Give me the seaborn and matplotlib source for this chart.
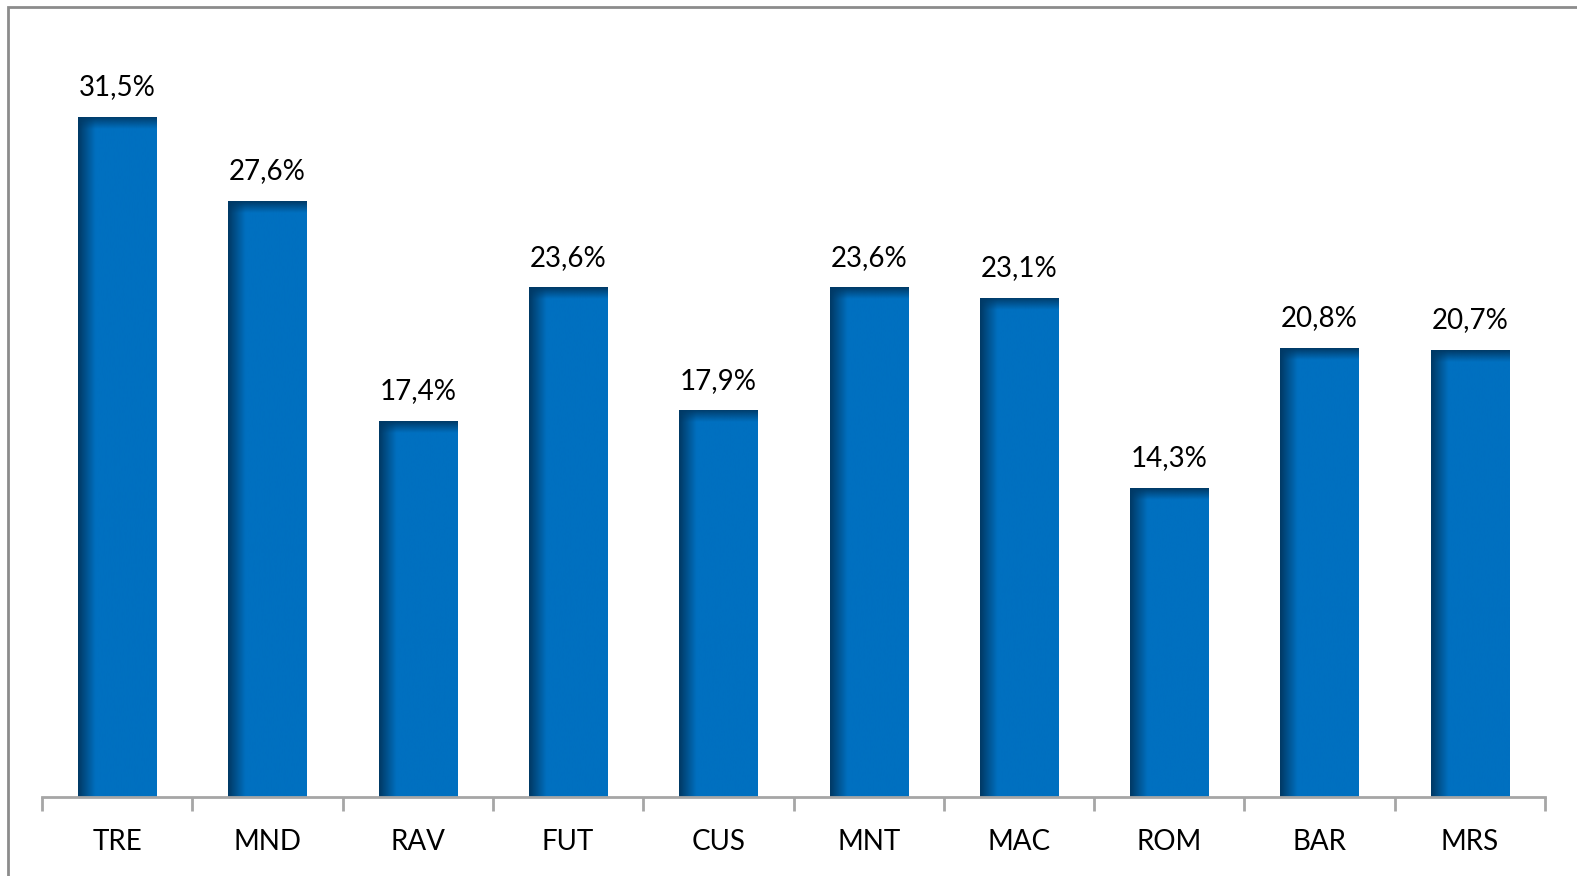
import numpy as np
import pandas as pd
import matplotlib
matplotlib.use("Agg")
import matplotlib.pyplot as plt
import seaborn as sns
from matplotlib.colors import LinearSegmentedColormap
from matplotlib.patches import Rectangle

# data
sites = ["TRE", "MND", "RAV", "FUT", "CUS", "MNT", "MAC", "ROM", "BAR", "MRS"]
shares = [31.5, 27.6, 17.4, 23.6, 17.9, 23.6, 23.1, 14.3, 20.8, 20.7]
labels = ["31,5%", "27,6%", "17,4%", "23,6%", "17,9%", "23,6%", "23,1%", "14,3%", "20,8%", "20,7%"]

df = pd.DataFrame({"site": sites, "share": shares})

sns.set_theme(style="white")
plt.rcParams["font.family"] = ["Lato", "DejaVu Sans"]

W, H = 1577, 876
base, left, right = 797, 42, 1545
ppu = 21.6  # pixels per percentage point
fig = plt.figure(figsize=(W / 100, H / 100), dpi=100)
ax = fig.add_axes([left / W, (H - base) / H, (right - left) / W, 35 * ppu / H])

blue = "#0070C0"
ax = sns.barplot(data=df, x="site", y="share", color=blue, width=0.52,
                 saturation=1, ax=ax, edgecolor="none")

# shading: dark left edge and dark top edge, like the bevelled bars
dark = "#003A66"
shade = LinearSegmentedColormap.from_list("shade", [dark, blue])
for p in ax.patches:
    x0, y0 = p.get_x(), p.get_y()
    w, h = p.get_width(), p.get_height()
    # left edge gradient
    grad = np.clip(np.linspace(0, 1, 64).reshape(1, -1) / 0.22, 0, 1)
    im = ax.imshow(grad, cmap=shade, aspect="auto", interpolation="bicubic",
                   extent=(x0, x0 + w, y0, y0 + h), zorder=p.get_zorder() + 0.1)
    im.set_clip_path(p)
    # top edge gradient (about 12 px)
    dy = 12 / ppu
    rgba = np.zeros((32, 1, 4))
    rgba[..., :3] = matplotlib.colors.to_rgb(dark)
    rgba[..., 3] = np.linspace(1, 0, 32).reshape(-1, 1)
    im2 = ax.imshow(rgba, aspect="auto", interpolation="bicubic",
                    extent=(x0, x0 + w, y0 + h - dy, y0 + h),
                    zorder=p.get_zorder() + 0.2)
    im2.set_clip_path(p)

for i, (v, lab) in enumerate(zip(shares, labels)):
    ax.annotate(lab, (i, v), xytext=(0, 12), textcoords="offset points",
                ha="center", va="bottom", fontsize=20, color="black")

ax.set_xlim(-0.5, len(sites) - 0.5)
ax.set_ylim(0, 35)
ax.set_xlabel("")
ax.set_ylabel("")
ax.set_yticks([])
ax.tick_params(axis="x", which="major", length=0, labelsize=20, pad=23,
               labelcolor="black")
ax.set_xticks(np.arange(-0.5, len(sites), 1.0), minor=True)
ax.tick_params(axis="x", which="minor", length=10, width=2, color="#A6A6A6",
               direction="out", bottom=True)
for s in ["top", "right", "left"]:
    ax.spines[s].set_visible(False)
ax.spines["bottom"].set_color("#A6A6A6")
ax.spines["bottom"].set_linewidth(2)

# outer chart border (right and bottom fall outside the image)
fig.patches.append(Rectangle((8 / W, -0.1), 1.5, 1.1 - 7 / H,
                             transform=fig.transFigure, fill=False,
                             edgecolor="#8C8C8C", linewidth=2))

fig.savefig("out.png", dpi=100)
